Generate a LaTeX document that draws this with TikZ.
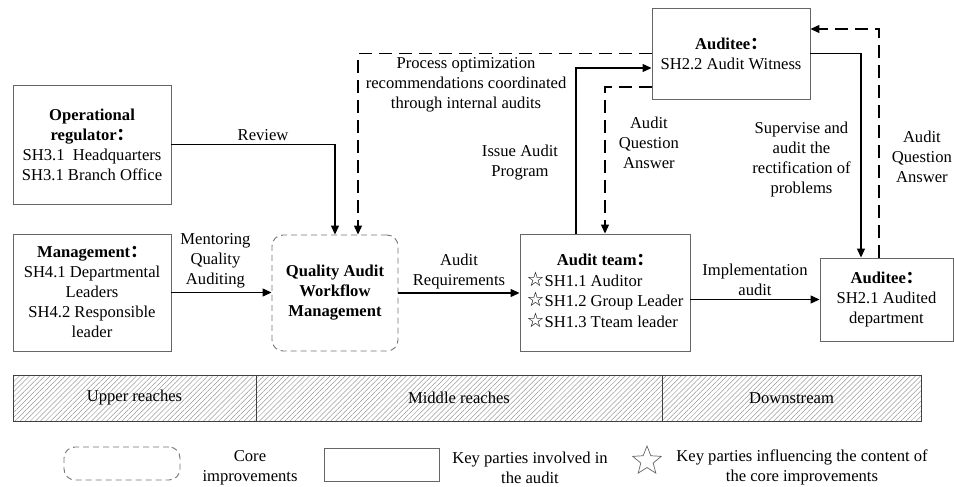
\documentclass[tikz,border=0pt]{standalone}
\usepackage{fontspec}
\setmainfont{Liberation Serif}
\newfontfamily\cjkfont{Noto Sans CJK SC}
\newfontfamily\symfont{DejaVu Sans}
\usetikzlibrary{arrows.meta, patterns.meta, shapes.geometric}

\newcommand{\qcolon}{{\cjkfont ：}}
\newcommand{\keystar}{{\symfont\fontsize{20}{20}\selectfont ☆}}

\begin{document}
\begin{tikzpicture}[
        x=1pt,
        y=-1pt,
        every node/.style={
            font=\fontsize{16.6}{20}\selectfont,
        },
        party/.style={
            draw=black!60,
            line width=0.9pt,
            rectangle,
            align=center,
            inner sep=0pt,
        },
        core/.style={
            draw=black!55,
            line width=0.9pt,
            dash pattern=on 6pt off 4pt,
            rounded corners=11pt,
            align=center,
            inner sep=0pt,
        },
        link/.style={
            line width=1.2pt,
            -{Triangle[length=9pt,width=8pt]},
        },
        link-feedback/.style={
            link,
            dash pattern=on 13pt off 7pt,
        },
        reach/.style={
            draw=black!75,
            line width=0.8pt,
            pattern={Lines[angle=45, distance=3.6pt, line width=0.5pt]},
            pattern color=black!40,
            minimum height=46pt,
            inner sep=0pt,
        },
        note/.style={
            align=center,
        },
    ]
    \useasboundingbox (0,0) rectangle (954,487);

    % Parties.
    \node[party, minimum width=158pt, minimum height=119pt] (reg) at (92,144.5)
        {\textbf{Operational}\\\textbf{regulator\qcolon}\\SH3.1\ \ Headquarters\\SH3.1 Branch Office};
    \node[party, minimum width=158pt, minimum height=117pt] (mgmt) at (92,292.5)
        {\textbf{Management\qcolon}\\SH4.1 Departmental\\Leaders\\SH4.2 Responsible\\leader};
    \node[core, minimum width=126pt, minimum height=116pt] (qawm) at (335,293)
        {\textbf{Quality Audit}\\\textbf{Workflow}\\\textbf{Management}};
    \node[party, minimum width=170pt, minimum height=117pt] (team) at (605,292.5)
        {\begin{tabular}{@{}l@{}}
            \multicolumn{1}{@{}c@{}}{\textbf{Audit team\qcolon}}\\
            \keystar SH1.1 Auditor\\
            \keystar SH1.2 Group Leader\\
            \keystar SH1.3 Tteam leader
        \end{tabular}};
    \node[party, minimum width=158pt, minimum height=91pt] (witness) at (731,53.5)
        {\textbf{Auditee\qcolon}\\SH2.2 Audit Witness};
    \node[party, minimum width=133pt, minimum height=83pt] (dept) at (886.5,299.5)
        {\textbf{Auditee\qcolon}\\SH2.1 Audited\\department};

    % Flows into the workflow.
    \draw[link] (reg.east) -| node[pos=0.28, above] {Review} (qawm.north);
    \draw[link-feedback] (witness.west) -| node[pos=0.316, below, note]
        {Process optimization\\recommendations coordinated\\through internal audits} ([xshift=23pt]qawm.north);
    \draw[link] (mgmt.east) -- node[pos=0.44, above, note] {Mentoring\\Quality\\Auditing} (qawm.west |- mgmt.east);
    \draw[link] (qawm.east) -- node[above, note] {Audit\\Requirements} (team.west |- qawm.east);

    % Audit team and auditees.
    \draw[link] ([xshift=-29pt]team.north) |- node[pos=0.214, left, note, xshift=-14pt]
        {Issue Audit\\Program} ([yshift=-14.5pt]witness.west);
    \draw[link-feedback] ([yshift=-33.5pt]witness.west) -| node[pos=0.69, right, note, xshift=10pt]
        {Audit\\Question\\Answer} (team.north);
    \draw[link] (witness.east) -| node[pos=0.759, left, note, xshift=-6.5pt]
        {Supervise and\\audit the\\rectification of\\problems} ([xshift=-25.5pt]dept.north);
    \draw[link-feedback] ([xshift=-7.5pt]dept.north) |- node[pos=0.22, right, note, xshift=9pt]
        {Audit\\Question\\Answer} ([yshift=24.5pt]witness.east);
    \draw[link] (team.east |- dept.west) -- node[above, note] {Implementation\\audit} (dept.west);

    % Reaches.
    \foreach \nm/\cx/\w/\txt in {upper/134.5/243/Upper reaches, middle/459/406/Middle reaches, down/791.5/259/Downstream}
    \node[reach, minimum width=\w pt] (\nm) at (\cx,398) {\txt};

    % Legend.
    \node[core, minimum width=116pt, minimum height=33pt] (legcore) at (122,463.5) {};
    \node[note] (legcoretxt) at (250,467.5) {Core\\improvements};
    \node[party, minimum width=115pt, minimum height=33pt] (legparty) at (381.5,464.5) {};
    \node[note] (legpartytxt) at (530,467.5) {Key parties involved in\\the audit};
    \node[star, star points=5, star point ratio=2.3, draw=black!60, line width=0.7pt,
        minimum size=30pt, inner sep=0pt] (legstar) at (647,461) {};
    \node[note] (legstartxt) at (802,467.5) {Key parties influencing the content of\\the core improvements};
\end{tikzpicture}
\end{document}
